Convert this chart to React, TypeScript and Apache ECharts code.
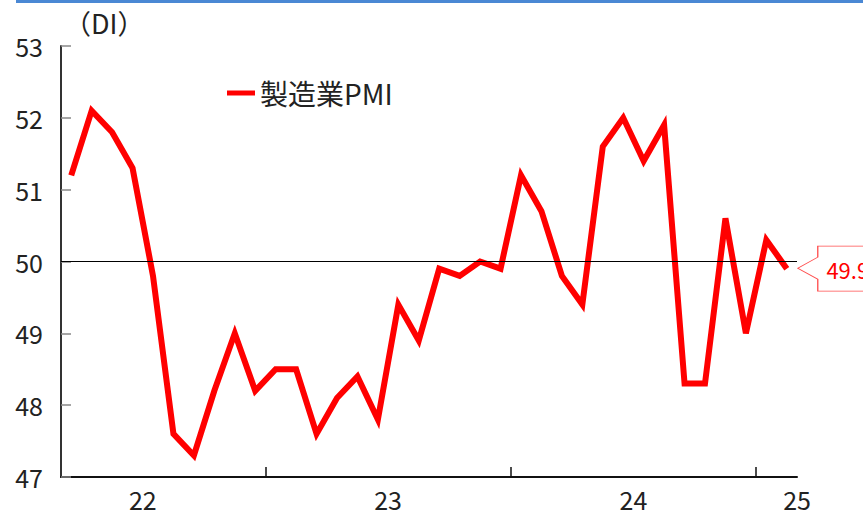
import React, { useEffect, useRef } from "react";
import * as echarts from "echarts";

// Monthly categories: Mar 2022 – Feb 2025
const months: string[] = [
  "2022-03", "2022-04", "2022-05", "2022-06", "2022-07", "2022-08", "2022-09", "2022-10", "2022-11", "2022-12",
  "2023-01", "2023-02", "2023-03", "2023-04", "2023-05", "2023-06", "2023-07", "2023-08", "2023-09", "2023-10", "2023-11", "2023-12",
  "2024-01", "2024-02", "2024-03", "2024-04", "2024-05", "2024-06", "2024-07", "2024-08", "2024-09", "2024-10", "2024-11", "2024-12",
  "2025-01", "2025-02",
];

const pmi: number[] = [
  51.2, 52.1, 51.8, 51.3, 49.8, 47.6, 47.3, 48.2, 49.0, 48.2,
  48.5, 48.5, 47.6, 48.1, 48.4, 47.8, 49.4, 48.9, 49.9, 49.8, 50.0, 49.9,
  51.2, 50.7, 49.8, 49.4, 51.6, 52.0, 51.4, 51.9, 48.3, 48.3, 50.6, 49.0,
  50.3, 49.9,
];

const yearLabels: string[] = ["22", "23", "24", "25"];
// label positions in month-band units from the left of the axis
const yearLabelAt: number[] = [4, 16, 28, 36];
// year boundaries (index of each January)
const yearTickAt: number[] = months
  .map((m, i) => (m.endsWith("-01") ? i : -1))
  .filter((i) => i >= 0);

const seriesName = "製造業PMI";
const baseLine = 50;
const FONT = "'Noto Sans CJK JP', 'Noto Sans', sans-serif";

export default function App() {
  const ref = useRef<HTMLDivElement>(null);

  useEffect(() => {
    if (!ref.current) return;
    const chart = echarts.init(ref.current, null, { renderer: "svg" });
    const lastIdx = pmi.length - 1;
    chart.setOption({
      animation: false,
      textStyle: { fontFamily: FONT },
      graphic: [
        {
          type: "rect",
          left: 16,
          top: 0,
          shape: { width: 847, height: 3 },
          style: { fill: "#4a88d4" },
        },
      ],
      grid: { left: 61, right: 66, top: 46, bottom: 39 },
      legend: {
        left: 227,
        top: 79,
        padding: 0,
        itemWidth: 28,
        itemHeight: 5,
        icon: "rect",
        textStyle: { fontSize: 28, color: "#222", fontFamily: FONT },
        data: [seriesName],
      },
      xAxis: [
        {
          type: "category",
          data: months,
          boundaryGap: true,
          axisLine: { show: false },
          axisTick: { show: false },
          axisLabel: { show: false },
          splitLine: { show: false },
        },
        {
          type: "value",
          min: 0,
          max: months.length,
          position: "bottom",
          axisLine: { show: true, lineStyle: { color: "#111", width: 2 } },
          axisTick: {
            show: true,
            inside: true,
            length: 10,
            customValues: yearTickAt,
            lineStyle: { color: "#111", width: 1.5 },
          },
          axisLabel: {
            show: true,
            customValues: yearLabelAt,
            formatter: (v: number) => yearLabels[yearLabelAt.indexOf(v)] ?? "",
            fontSize: 25,
            lineHeight: 25,
            color: "#222",
            margin: 9,
            fontFamily: FONT,
          },
          splitLine: { show: false },
        },
      ],
      yAxis: {
        type: "value",
        min: 47,
        max: 53,
        interval: 1,
        name: "（DI）",
        nameLocation: "end",
        nameGap: 24,
        nameTextStyle: {
          align: "left",
          verticalAlign: "middle",
          fontSize: 27,
          color: "#222",
          padding: [0, 0, 0, 3],
          fontFamily: FONT,
        },
        axisLine: { show: true, lineStyle: { color: "#333", width: 2 } },
        axisTick: {
          show: true,
          inside: true,
          length: 10,
          lineStyle: { color: "#888", width: 1.5 },
        },
        axisLabel: { fontSize: 25, color: "#222", margin: 18, fontFamily: FONT },
        splitLine: { show: false },
      },
      series: [
        {
          name: seriesName,
          type: "line",
          xAxisIndex: 0,
          data: pmi,
          showSymbol: false,
          symbol: "none",
          color: "#ff0000",
          lineStyle: { color: "#ff0000", width: 6, join: "miter" },
          markLine: {
            silent: true,
            symbol: ["none", "none"],
            label: { show: false },
            lineStyle: { color: "#000", width: 1, type: "solid" },
            data: [{ yAxis: baseLine }],
          },
          markPoint: {
            silent: true,
            symbol: "path://M0 22 L20 11 L20 0 L80 0 L80 45 L20 45 L20 33 Z",
            symbolSize: [80, 45],
            symbolKeepAspect: false,
            symbolOffset: [51, 0],
            itemStyle: { color: "#fff", borderColor: "#ff4d4d", borderWidth: 1 },
            label: {
              show: true,
              position: "inside",
              offset: [10, 0],
              color: "#ff0000",
              fontSize: 22,
              fontFamily: FONT,
              formatter: (p: any) => String(p.value),
            },
            data: [{ coord: [lastIdx, pmi[lastIdx]], value: pmi[lastIdx] }],
          },
        },
      ],
    });
    return () => chart.dispose();
  }, []);

  return (
    <div
      ref={ref}
      style={{ position: "absolute", left: 0, top: 0, width: 863, height: 516, background: "#fff" }}
    />
  );
}
